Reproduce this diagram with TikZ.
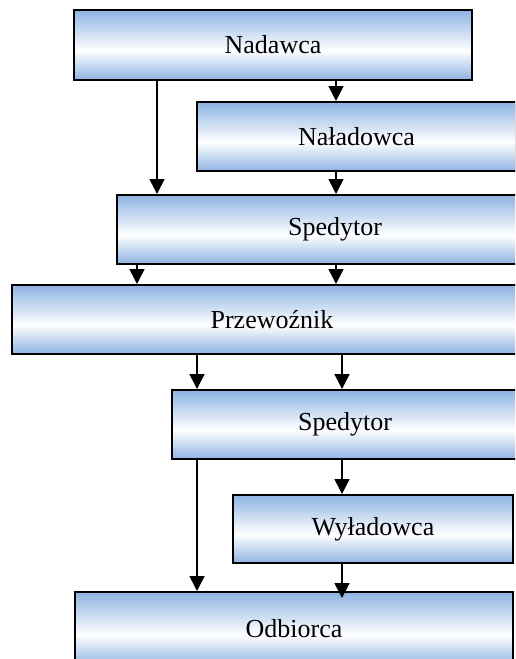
\documentclass[tikz,border=0pt]{standalone}
\usepackage{fontspec}
\setmainfont{Liberation Serif}
\usetikzlibrary{arrows.meta}
\definecolor{boxblue}{RGB}{141,179,226}
% blue at the edges, white band a little below the middle
\pgfdeclareverticalshading{stagegrad}{100bp}{%
  color(0bp)=(boxblue); color(25bp)=(boxblue); color(46bp)=(white);
  color(75bp)=(boxblue); color(100bp)=(boxblue)}
\tikzset{
  stage/.style={rectangle, draw=black, line width=2pt, inner sep=0pt,
    shading=stagegrad, font=\fontsize{26}{31}\selectfont},
  flow/.style={line width=1.6pt, -{Triangle[width=15pt,length=15pt]}}
}
% box given by left, right, top, bottom (y measured downwards)
\newcommand{\stagebox}[6]{%
  \node[stage, minimum width=#3-#2, minimum height=#5-#4]
    (#1) at ({(#2+#3)/2}, {(#4+#5)/2}) {#6};}
\begin{document}
\begin{tikzpicture}[x=1pt, y=-1pt]
  \useasboundingbox (0,0) rectangle (515,659);
  \clip (0,0) rectangle (515,659);
  \fill[white] (0,0) rectangle (515,659);

  \stagebox{nad}{74}{472}{10}{80}{Nadawca}
  \stagebox{nal}{197}{516}{102}{171}{Naładowca}
  \stagebox{spa}{117}{553}{195}{264}{Spedytor}
  \stagebox{prz}{12}{532}{285}{354}{Przewoźnik}
  \stagebox{spb}{172}{518}{390}{459}{Spedytor}
  \stagebox{wyl}{233}{513}{495}{563}{Wyładowca}
  \stagebox{odb}{75}{513}{592}{666}{Odbiorca}

  \draw[flow] (nad.south -| 157,0) -- (spa.north -| 157,0);
  \draw[flow] (nad.south -| 336,0) -- (nal.north -| 336,0);
  \draw[flow] (nal.south -| 336,0) -- (spa.north -| 336,0);
  \draw[flow] (spa.south -| 137,0) -- (prz.north -| 137,0);
  \draw[flow] (spa.south -| 336,0) -- (prz.north -| 336,0);
  \draw[flow] (prz.south -| 197,0) -- (spb.north -| 197,0);
  \draw[flow] (prz.south -| 342,0) -- (spb.north -| 342,0);
  \draw[flow] (spb.south -| 197,0) -- (odb.north -| 197,0);
  \draw[flow] (spb.south -| 342,0) -- (wyl.north -| 342,0);
  \draw[flow] (wyl.south -| 342,0) -- ([yshift=-7pt]odb.north -| 342,0);
\end{tikzpicture}
\end{document}
